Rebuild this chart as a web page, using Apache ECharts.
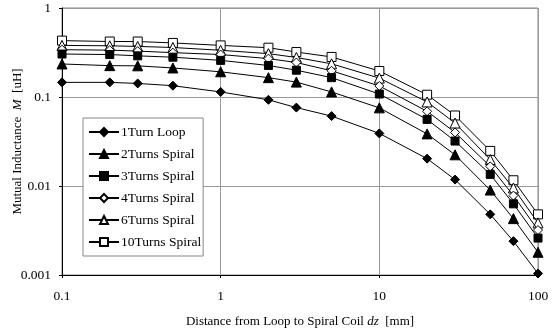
<!DOCTYPE html>
<html>
<head>
<meta charset="utf-8">
<script src="https://cdn.jsdelivr.net/npm/echarts@6/dist/echarts.min.js"></script>
<style>
  html, body { margin: 0; padding: 0; background: #fff; }
  #chart { width: 558px; height: 331px; }
</style>
</head>
<body>
<div id="chart"></div>
<script>
// Loop-to-spiral separation dz [mm]
const distances = [0.1, 0.2, 0.3, 0.5, 1, 2, 3, 5, 10, 20, 30, 50, 70, 100];

// Mutual inductance M [uH] for each coil
const loop1 = [0.146, 0.146, 0.142, 0.134, 0.114, 0.093, 0.076, 0.061, 0.039, 0.0203, 0.0118, 0.0048, 0.0024, 0.00104];
const spiral2 = [0.235, 0.225, 0.224, 0.212, 0.192, 0.165, 0.147, 0.114, 0.0755, 0.0385, 0.0224, 0.0090, 0.0043, 0.0018];
const spiral3 = [0.304, 0.300, 0.290, 0.280, 0.258, 0.226, 0.200, 0.165, 0.108, 0.056, 0.032, 0.0135, 0.0063, 0.0026];
const spiral4 = [0.34, 0.336, 0.328, 0.315, 0.30, 0.27, 0.244, 0.197, 0.133, 0.069, 0.040, 0.0166, 0.0078, 0.0032];
const spiral6 = [0.38, 0.376, 0.37, 0.36, 0.335, 0.307, 0.278, 0.236, 0.163, 0.088, 0.051, 0.0198, 0.0095, 0.00385];
const spiral10 = [0.43, 0.42, 0.42, 0.405, 0.38, 0.358, 0.32, 0.282, 0.196, 0.106, 0.062, 0.0248, 0.0116, 0.0048];

const seriesNames = ['1Turn Loop', '2Turns Spiral', '3Turns Spiral', '4Turns Spiral', '6Turns Spiral', '10Turns Spiral'];
const xTickLabels = ['0.1', '1', '10', '100'];
const yTickLabels = ['0.001', '0.01', '0.1', '1'];

const FONT = '"Liberation Serif", "Times New Roman", serif';
const DIAMOND = 'path://M0,-1 L1,0 L0,1 L-1,0 Z';

const styles = [
  { symbol: DIAMOND, size: 9, fill: '#000' },
  { symbol: 'triangle', size: 10, fill: '#000' },
  { symbol: 'rect', size: 8, fill: '#000' },
  { symbol: DIAMOND, size: 9, fill: '#fff' },
  { symbol: 'triangle', size: 10, fill: '#fff' },
  { symbol: 'rect', size: 9, fill: '#fff' }
];
const values = [loop1, spiral2, spiral3, spiral4, spiral6, spiral10];

function fmtTick(v, labels) {
  const e = Math.round(Math.log10(v));
  const hit = labels.find(l => Math.round(Math.log10(parseFloat(l))) === e);
  return hit || '';
}

const chart = echarts.init(document.getElementById('chart'), null, { renderer: 'canvas' });

chart.setOption({
  animation: false,
  backgroundColor: '#fff',
  textStyle: { fontFamily: FONT },
  grid: {
    left: 62, right: 20, top: 8, bottom: 56,
    containLabel: false,
    outerBoundsMode: 'none',
    show: true, borderColor: '#888', borderWidth: 1
  },
  legend: {
    orient: 'vertical',
    left: 83,
    top: 118,
    width: 118,
    data: seriesNames,
    backgroundColor: '#fff',
    borderColor: '#888',
    borderWidth: 1,
    padding: [7, 2, 7, 5],
    itemWidth: 30,
    itemHeight: 10,
    itemGap: 8,
    textStyle: { fontFamily: FONT, fontSize: 13.5, color: '#000', padding: [0, 0, 0, -3] }
  },
  xAxis: {
    type: 'log',
    logBase: 10,
    min: 0.1,
    max: 100,
    name: '{t|Distance from Loop to Spiral Coil }{i|dz}{t|  [mm]}',
    nameLocation: 'middle',
    nameGap: 40,
    nameMoveOverlap: false,
    nameTextStyle: {
      rich: {
        t: { fontFamily: FONT, fontSize: 13, color: '#000' },
        i: { fontFamily: FONT, fontSize: 13, color: '#000', fontStyle: 'italic' }
      }
    },
    axisLine: { show: true, lineStyle: { color: '#000', width: 1 } },
    axisTick: { show: true, inside: false, length: 3, lineStyle: { color: '#000' } },
    minorTick: { show: false },
    axisLabel: {
      fontFamily: FONT, fontSize: 13.5, color: '#000', margin: 14,
      formatter: v => fmtTick(v, xTickLabels)
    },
    splitLine: { show: true, lineStyle: { color: '#999', width: 1 } }
  },
  yAxis: {
    type: 'log',
    logBase: 10,
    min: 0.001,
    max: 1,
    name: '{t|Mutual Inductance  }{i|M}{t|  [uH]}',
    nameLocation: 'middle',
    nameRotate: 90,
    nameGap: 38,
    nameMoveOverlap: false,
    nameTextStyle: {
      rich: {
        t: { fontFamily: FONT, fontSize: 13, color: '#000' },
        i: { fontFamily: FONT, fontSize: 13, color: '#000', fontStyle: 'italic' }
      }
    },
    axisLine: { show: true, lineStyle: { color: '#000', width: 1 } },
    axisTick: { show: true, length: 3, lineStyle: { color: '#000' } },
    axisLabel: {
      fontFamily: FONT, fontSize: 13.5, color: '#000', margin: 11,
      formatter: v => fmtTick(v, yTickLabels)
    },
    splitLine: { show: true, lineStyle: { color: '#999', width: 1 } }
  },
  series: seriesNames.map((name, i) => ({
    name,
    type: 'line',
    data: distances.map((d, j) => [d, values[i][j]]),
    symbol: styles[i].symbol,
    symbolSize: styles[i].size,
    showAllSymbol: true,
    lineStyle: { color: '#000', width: 1 },
    itemStyle: { color: styles[i].fill, borderColor: '#000', borderWidth: 1 },
    emphasis: { disabled: true },
    z: 10 - i
  }))
});
</script>
</body>
</html>
